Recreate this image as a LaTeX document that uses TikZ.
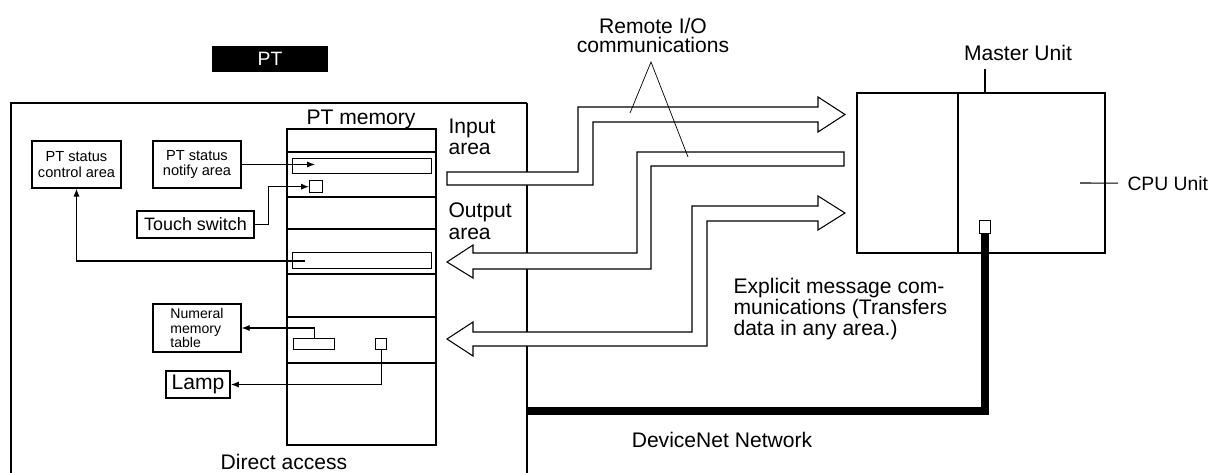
\documentclass[tikz,border=0pt]{standalone}
\usepackage{fontspec}
\setmainfont{Liberation Sans}
\usetikzlibrary{arrows.meta}
\newcommand\tightlines{\lineskiplimit=-20pt\relax}

\begin{document}
\begin{tikzpicture}[x=0.02cm,y=-0.02cm,line width=0.6pt,
	lbl/.style={inner sep=0pt,font=\fontsize{12}{12}\selectfont\tightlines},
	box/.style={draw,line width=0.8pt,inner sep=0pt,align=center},
	membox/.style={draw,line width=1.7pt},
	cell/.style={draw,line width=0.8pt,inner sep=0pt,anchor=north west},
	conn/.style={line width=0.6pt,-{Latex[length=4.5pt,width=3.5pt]}},
	tube/.style={draw,fill=white,line width=0.6pt,line join=miter}]
			\useasboundingbox (0,0) rectangle (1217,473);
			\draw[line width=1pt] (11,473) -- (11,103) -- (527,103);
			\draw (527,103) -- (527,473);
			\node[fill=black,text=white,minimum width=2.32cm,minimum height=0.52cm,inner sep=0pt,font=\fontsize{11}{13}\selectfont] (pt) at (270,59) {PT};
			\draw (287,129) rectangle (436,445);
			\node[lbl,anchor=base] (ptmem) at (361,125) {PT memory};
			\draw[membox] (287,152) rectangle (436,197);
			\draw[membox] (287,229) rectangle (436,274);
			\draw[membox] (287,317) rectangle (436,363);
			\node[cell,minimum width=2.78cm,minimum height=0.30cm] (in1) at (292,158) {};
			\node[cell,minimum width=0.26cm,minimum height=0.24cm] (sq1) at (309,180) {};
			\node[cell,minimum width=2.78cm,minimum height=0.32cm] (in2) at (292,252) {};
			\node[cell,minimum width=0.82cm,minimum height=0.22cm] (in3) at (293,338) {};
			\node[cell,minimum width=0.22cm,minimum height=0.22cm] (sq3) at (375,338) {};
			\node[box,minimum width=1.78cm,minimum height=0.94cm,font=\fontsize{8.3}{8.8}\selectfont\tightlines] (ctrl) at (76.5,164.5) {PT status\\control area};
			\node[box,minimum width=1.76cm,minimum height=0.94cm,font=\fontsize{8.3}{8.8}\selectfont\tightlines] (notify) at (197,164.5) {PT status\\notify area};
			\node[box,line width=1.1pt,minimum width=2.34cm,minimum height=0.54cm,font=\fontsize{10.2}{12}\selectfont] (touch) at (195.5,224.5) {Touch switch};
			\node[box,align=left,minimum width=1.76cm,minimum height=0.96cm,font=\fontsize{8}{8.2}\selectfont\tightlines] (numeral) at (197,328) {Numeral\\memory\\table};
			\node[box,line width=1.1pt,minimum width=1.28cm,minimum height=0.54cm,font=\fontsize{12}{14}\selectfont] (lamp) at (198,384.5) {Lamp};
			\coordinate (in1tip) at (315,164.5);
			\coordinate (in2tail) at (305,261);
			\draw[conn] (notify.east) -- (in1tip);
			\draw[conn] (touch.east) -- ++(14,0) |- (sq1.west);
			\draw[conn] (in2tail) -| (ctrl.south);
			\draw[conn] (in3.north) |- (numeral.east);
			\draw[conn] (sq3.south) |- (lamp.east);
			\node[lbl,anchor=base] (direct) at (284,469) {Direct access};
			\node[lbl,anchor=north west,align=left,font=\fontsize{12}{12.5}\selectfont] (inarea) at (448,118) {Input\\area};
			\node[lbl,anchor=north west,align=left,font=\fontsize{12}{12.5}\selectfont] (outarea) at (448,202) {Output\\area};
			\draw[tube] (447,172) -- (578,172) -- (578,107) -- (818,107) -- (818,97) -- (845,114.5) -- (818,132) -- (818,122) -- (593,122) -- (593,185) -- (447,185) -- cycle;
			\draw[tube] (844,152) -- (637,152) -- (637,253) -- (473,253) -- (473,245) -- (447,262) -- (473,278) -- (473,269) -- (651,269) -- (651,166) -- (844,166) -- cycle;
			\draw[tube] (692,206) -- (818,206) -- (818,196) -- (845,213) -- (818,230) -- (818,221) -- (707,221) -- (707,346) -- (473,346) -- (473,356) -- (447,339) -- (473,322) -- (473,332) -- (692,332) -- cycle;
			\node[lbl,anchor=north,align=center,font=\fontsize{12}{10.8}\selectfont\tightlines] (remote) at (653,18) {Remote I/O\\communications};
			\coordinate (remtop) at (651,62);
			\coordinate (remA) at (630,113);
			\coordinate (remB) at (688,157);
			\draw[line width=0.4pt] (remA) -- (remtop) -- (remB);
			\node[lbl,anchor=north west,align=left] (explicit) at (733,278) {Explicit message com-\\munications (Transfers\\data in any area.)};
			\node[draw,line width=1pt,minimum width=4.96cm,minimum height=3.2cm,anchor=north west,inner sep=0pt] (mubox) at (856,92) {};
			\draw (958,92) -- (958,252);
			\node[lbl,anchor=base] (master) at (1018,61) {Master Unit};
			\coordinate (mutick) at (985,69);
			\draw (mutick) -- (mutick |- mubox.north);
			\node[lbl,anchor=base west,font=\fontsize{11}{13}\selectfont] (cpu) at (1127,190) {CPU Unit};
			\coordinate (cputick) at (1080,183);
			\draw (cputick) -- ([xshift=-5pt]cpu.west);
			\draw[line width=0.5pt] (979,220) rectangle (990,233);
			\coordinate (port) at (985,233);
			\coordinate (bus) at (527,411);
			\draw[line width=4.5pt] (port) |- (bus);
			\node[lbl,anchor=base] (devnet) at (722,447) {DeviceNet Network};
		\end{tikzpicture}
\end{document}
